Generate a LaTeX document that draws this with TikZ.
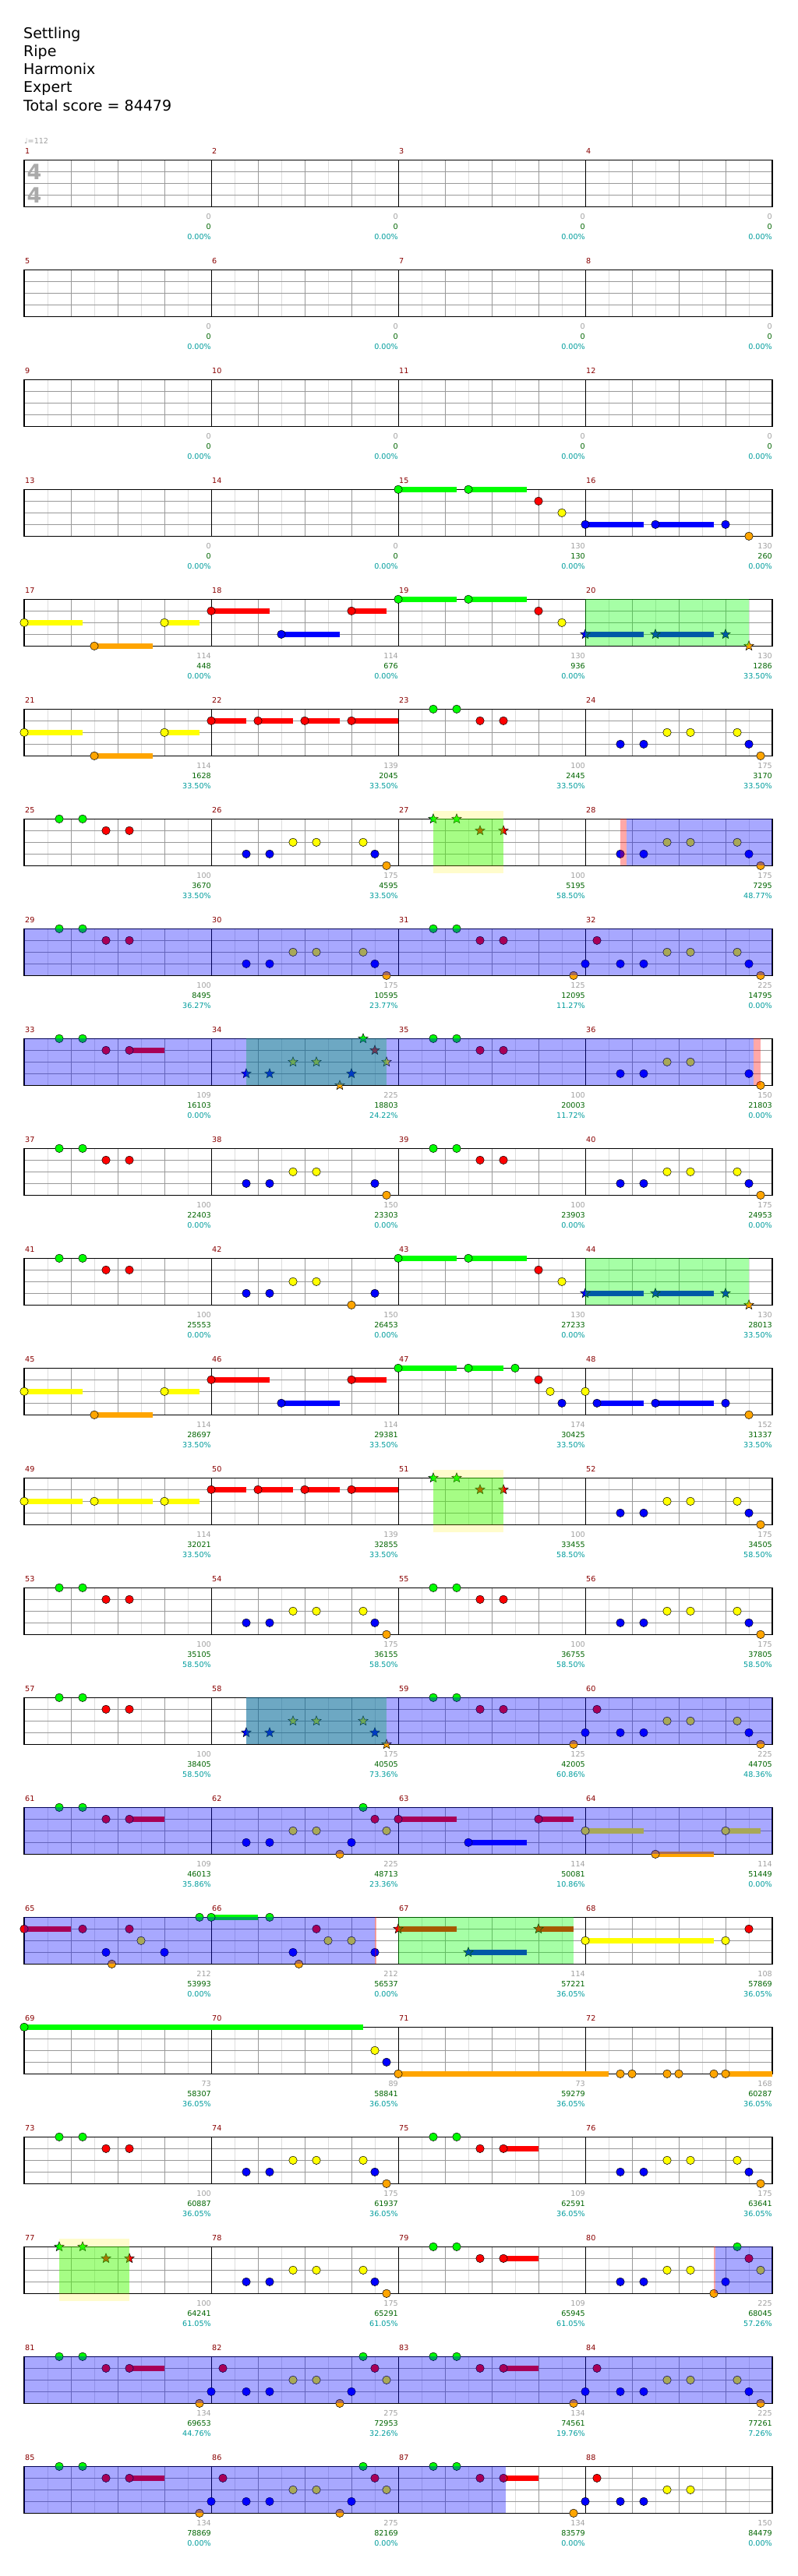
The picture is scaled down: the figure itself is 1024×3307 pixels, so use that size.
\documentclass[tikz,border=0pt]{standalone}
\usepackage{fontspec}
\setmainfont{DejaVu Sans}
\usetikzlibrary{shapes.geometric}

\definecolor{ncG}{HTML}{00FF00}
\definecolor{ncR}{HTML}{FF0000}
\definecolor{ncY}{HTML}{FFFF00}
\definecolor{ncB}{HTML}{0000FF}
\definecolor{ncO}{HTML}{FFA500}
\definecolor{barnum}{HTML}{880000}
\definecolor{notecount}{HTML}{A0A0A0}
\definecolor{scorecol}{HTML}{006400}
\definecolor{pctcol}{HTML}{009C9C}
\definecolor{beatline}{HTML}{999999}
\definecolor{halfline}{HTML}{DDDDDD}
\definecolor{timesig}{HTML}{AAAAAA}

% lane of each fret colour (0 = top line)
\def\laneG{0}\def\laneR{1}\def\laneY{2}\def\laneB{3}\def\laneO{4}

\tikzset{
  gem/.style={circle, draw=black, line width=0.5pt, inner sep=0pt, minimum size=10.5pt},
  stargem/.style={star, star points=5, star point ratio=2.3, draw=black, line width=0.5pt, inner sep=0pt, minimum size=13pt},
  odblue/.style={fill=blue, fill opacity=0.34},
  odred/.style={fill=red, fill opacity=0.34},
  spgreen/.style={fill=green, fill opacity=0.35},
  spyellow/.style={fill=yellow, fill opacity=0.2},
  lbl/.style={font=\fontsize{9.6}{10}\selectfont, inner sep=0pt},
}

% measure, lane, position (16ths), sustain end (0 = none), shape
\newcommand{\putnote}[5]{%
  \pgfmathtruncatemacro\mcol{mod(#1-1,4)}%
  \pgfmathtruncatemacro\mrow{(#1-1)/4}%
  \pgfmathsetmacro\nx{31+240*\mcol+15*#3}%
  \pgfmathsetmacro\ny{205.3+141*\mrow+15*\csname lane#2\endcsname}%
  \ifnum#4>0
    \pgfmathsetmacro\ex{31+240*\mcol+15*#4}%
    \fill[nc#2] (\nx,\ny-3.5) rectangle (\ex,\ny+3.5);
  \fi
  \node[#5, fill=nc#2] at (\nx,\ny) {};
}
\newcommand{\gems}[2]{\edef\gemlist{#2}%
  \foreach \glane/\gpos/\gend in \gemlist {\putnote{#1}{\glane}{\gpos}{\gend}{gem}}}
\newcommand{\stargems}[2]{\edef\gemlist{#2}%
  \foreach \glane/\gpos/\gend in \gemlist {\putnote{#1}{\glane}{\gpos}{\gend}{stargem}}}

% [extension], style, measure, from, to (16ths from that measure)
\newcommand{\zonefill}[5][0]{%
  \pgfmathtruncatemacro\mcol{mod(#3-1,4)}%
  \pgfmathtruncatemacro\mrow{(#3-1)/4}%
  \pgfmathsetmacro\za{31+240*\mcol+15*#4}%
  \pgfmathsetmacro\zb{31+240*\mcol+15*#5}%
  \pgfmathsetmacro\zt{205.3+141*\mrow}%
  \fill[#2] (\za,\zt-#1) rectangle (\zb,\zt+60+#1);}

% recurring riffs
\newcommand{\riffA}{G/3/0, G/5/0, R/7/0, R/9/0}
\newcommand{\riffL}{G/3/0, G/5/0, R/7/0, R/9/12}
\newcommand{\riffB}{B/3/0, B/5/0, Y/7/0, Y/9/0, Y/13/0, B/14/0, O/15/0}
\newcommand{\riffC}{B/3/0, B/5/0, Y/7/0, Y/9/0, O/11/0, B/12/0, G/13/0, R/14/0, Y/15/0}
\newcommand{\riffD}{G/0/5, G/6/11, R/12/0, Y/14/0}

\begin{document}
\begin{tikzpicture}[x=1pt, y=-1pt]
\useasboundingbox (0,0) rectangle (1024,3307);

% Header
\node[anchor=base west, inner sep=0pt, font=\fontsize{19}{19}\selectfont] at (30,49) {Settling};
\node[anchor=base west, inner sep=0pt, font=\fontsize{19}{19}\selectfont] at (30,72.3) {Ripe};
\node[anchor=base west, inner sep=0pt, font=\fontsize{19}{19}\selectfont] at (30,95.6) {Harmonix};
\node[anchor=base west, inner sep=0pt, font=\fontsize{19}{19}\selectfont] at (30,118.9) {Expert};
\node[anchor=base west, inner sep=0pt, font=\fontsize{19}{19}\selectfont] at (30,142.2) {Total score = 84479};
\node[lbl, text=notecount, anchor=west] at (31,181) {♩=112};

% Staves
\foreach \k in {0,...,21}{
  \pgfmathsetmacro\rt{205.3+141*\k}
  \foreach \i in {0,...,15} \draw[halfline, line width=0.6pt] ({61+60*\i},\rt) -- ++(0,60);
  \foreach \i in {1,...,15} \draw[beatline, line width=0.8pt] ({31+60*\i},\rt) -- ++(0,60);
  \foreach \j in {1,2,3} \draw[beatline, line width=0.8pt] (31,\rt+15*\j) -- (991,\rt+15*\j);
  \foreach \i in {1,2,3} \draw[black, line width=0.6pt] ({31+240*\i},\rt) -- ++(0,60);
  \draw[black, line width=1.2pt] (31,\rt) rectangle (991,\rt+60);
}

% Time signature
\node[font=\fontsize{27}{27}\selectfont\bfseries, text=timesig, inner sep=0pt] at (44,221) {4};
\node[font=\fontsize{27}{27}\selectfont\bfseries, text=timesig, inner sep=0pt] at (44,250.5) {4};

% Notes
\gems{15}{\riffD}
\gems{16}{B/0/5, B/6/11, B/12/0, O/14/0}
\gems{17}{Y/0/5, O/6/11, Y/12/15}
\gems{18}{R/0/5, B/6/11, R/12/15}
\gems{19}{\riffD}
\stargems{20}{B/0/5, B/6/11, B/12/0, O/14/0}
\gems{21}{Y/0/5, O/6/11, Y/12/15}
\gems{22}{R/0/3, R/4/7, R/8/11, R/12/16}
\gems{23}{\riffA}
\gems{24}{\riffB}
\gems{25}{\riffA}
\gems{26}{\riffB}
\stargems{27}{\riffA}
\gems{28}{\riffB}
\gems{29}{\riffA}
\gems{30}{\riffB}
\gems{31}{\riffA, O/15/0}
\gems{32}{B/0/0, R/1/0, \riffB}
\gems{33}{\riffL}
\stargems{34}{\riffC}
\gems{35}{\riffA}
\gems{36}{B/3/0, B/5/0, Y/7/0, Y/9/0, B/14/0, O/15/0}
\gems{37}{\riffA}
\gems{38}{B/3/0, B/5/0, Y/7/0, Y/9/0, B/14/0, O/15/0}
\gems{39}{\riffA}
\gems{40}{\riffB}
\gems{41}{\riffA}
\gems{42}{B/3/0, B/5/0, Y/7/0, Y/9/0, O/12/0, B/14/0}
\gems{43}{\riffD}
\stargems{44}{B/0/5, B/6/11, B/12/0, O/14/0}
\gems{45}{Y/0/5, O/6/11, Y/12/15}
\gems{46}{R/0/5, B/6/11, R/12/15}
\gems{47}{G/0/5, G/6/9, G/10/0, R/12/0, Y/13/0, B/14/0}
\gems{48}{Y/0/0, B/1/5, B/6/11, B/12/0, O/14/0}
\gems{49}{Y/0/5, Y/6/11, Y/12/15}
\gems{50}{R/0/3, R/4/7, R/8/11, R/12/16}
\stargems{51}{\riffA}
\gems{52}{\riffB}
\gems{53}{\riffA}
\gems{54}{\riffB}
\gems{55}{\riffA}
\gems{56}{\riffB}
\gems{57}{\riffA}
\stargems{58}{\riffB}
\gems{59}{\riffA, O/15/0}
\gems{60}{B/0/0, R/1/0, \riffB}
\gems{61}{\riffL}
\gems{62}{\riffC}
\gems{63}{R/0/5, B/6/11, R/12/15}
\gems{64}{Y/0/5, O/6/11, Y/12/15}
\gems{65}{R/0/4, R/5/0, B/7/0, O/7.5/0, R/9/0, Y/10/0, B/12/0, G/15/0}
\gems{66}{G/0/4, G/5/0, B/7/0, O/7.5/0, R/9/0, Y/10/0, Y/12/0, B/14/0}
\stargems{67}{R/0/5, B/6/11, R/12/15}
\gems{68}{Y/0/11, Y/12/0, R/14/0}
\gems{69}{G/0/29}
\gems{70}{Y/14/0, B/15/0}
\gems{71}{O/0/18}
\gems{72}{O/3/0, O/4/0, O/7/0, O/8/0, O/11/0, O/12/16}
\gems{73}{\riffA}
\gems{74}{\riffB}
\gems{75}{\riffL}
\gems{76}{\riffB}
\stargems{77}{\riffA}
\gems{78}{\riffB}
\gems{79}{\riffL}
\gems{80}{\riffC}
\gems{81}{\riffL, O/15/0}
\gems{82}{B/0/0, R/1/0, \riffC}
\gems{83}{\riffL, O/15/0}
\gems{84}{B/0/0, R/1/0, \riffB}
\gems{85}{\riffL, O/15/0}
\gems{86}{B/0/0, R/1/0, \riffC}
\gems{87}{\riffL, O/15/0}
\gems{88}{B/0/0, R/1/0, B/3/0, B/5/0, Y/7/0, Y/9/0}

% Star power phrases
\zonefill{spgreen}{20}{0}{14}
\zonefill[10]{spyellow}{27}{3}{9}
\zonefill{spgreen}{27}{3}{9}
\zonefill{spgreen}{34}{3}{15}
\zonefill{spgreen}{44}{0}{14}
\zonefill[10]{spyellow}{51}{3}{9}
\zonefill{spgreen}{51}{3}{9}
\zonefill{spgreen}{58}{3}{15}
\zonefill{spgreen}{67}{0}{15}
\zonefill[10]{spyellow}{77}{3}{9}
\zonefill{spgreen}{77}{3}{9}

% Overdrive
\zonefill{odred}{28}{3}{3.5}
\zonefill{odblue}{28}{3.5}{16}
\zonefill{odblue}{29}{0}{64}
\zonefill{odblue}{33}{0}{62.4}
\zonefill{odred}{33}{62.4}{63}
\zonefill{odblue}{58}{3}{48}
\zonefill{odblue}{61}{0}{64}
\zonefill{odblue}{65}{0}{30}
\zonefill{odred}{65}{30}{30.15}
\zonefill{odred}{80}{11}{11.15}
\zonefill{odblue}{80}{11.15}{16}
\zonefill{odblue}{81}{0}{64}
\zonefill{odblue}{85}{0}{41.2}

% Measure numbers
\foreach \m in {1,...,88}{
  \pgfmathtruncatemacro\mcol{mod(\m-1,4)}
  \pgfmathtruncatemacro\mrow{(\m-1)/4}
  \node[lbl, text=barnum, anchor=west] at ({32+240*\mcol},{194.3+141*\mrow}) {\m};
}

% Note count, running score, overdrive percentage
\foreach \m/\cnt/\scr/\pct in {1/0/0/0.00, 2/0/0/0.00, 3/0/0/0.00, 4/0/0/0.00,
  5/0/0/0.00, 6/0/0/0.00, 7/0/0/0.00, 8/0/0/0.00, 9/0/0/0.00, 10/0/0/0.00,
  11/0/0/0.00, 12/0/0/0.00, 13/0/0/0.00, 14/0/0/0.00, 15/130/130/0.00, 16/130/260/0.00,
  17/114/448/0.00, 18/114/676/0.00, 19/130/936/0.00, 20/130/1286/33.50,
  21/114/1628/33.50, 22/139/2045/33.50, 23/100/2445/33.50, 24/175/3170/33.50,
  25/100/3670/33.50, 26/175/4595/33.50, 27/100/5195/58.50, 28/175/7295/48.77,
  29/100/8495/36.27, 30/175/10595/23.77, 31/125/12095/11.27, 32/225/14795/0.00,
  33/109/16103/0.00, 34/225/18803/24.22, 35/100/20003/11.72, 36/150/21803/0.00,
  37/100/22403/0.00, 38/150/23303/0.00, 39/100/23903/0.00, 40/175/24953/0.00,
  41/100/25553/0.00, 42/150/26453/0.00, 43/130/27233/0.00, 44/130/28013/33.50,
  45/114/28697/33.50, 46/114/29381/33.50, 47/174/30425/33.50, 48/152/31337/33.50,
  49/114/32021/33.50, 50/139/32855/33.50, 51/100/33455/58.50, 52/175/34505/58.50,
  53/100/35105/58.50, 54/175/36155/58.50, 55/100/36755/58.50, 56/175/37805/58.50,
  57/100/38405/58.50, 58/175/40505/73.36, 59/125/42005/60.86, 60/225/44705/48.36,
  61/109/46013/35.86, 62/225/48713/23.36, 63/114/50081/10.86, 64/114/51449/0.00,
  65/212/53993/0.00, 66/212/56537/0.00, 67/114/57221/36.05, 68/108/57869/36.05,
  69/73/58307/36.05, 70/89/58841/36.05, 71/73/59279/36.05, 72/168/60287/36.05,
  73/100/60887/36.05, 74/175/61937/36.05, 75/109/62591/36.05, 76/175/63641/36.05,
  77/100/64241/61.05, 78/175/65291/61.05, 79/109/65945/61.05, 80/225/68045/57.26,
  81/134/69653/44.76, 82/275/72953/32.26, 83/134/74561/19.76, 84/225/77261/7.26,
  85/134/78869/0.00, 86/275/82169/0.00, 87/134/83579/0.00, 88/150/84479/0.00}{
  \pgfmathtruncatemacro\mcol{mod(\m-1,4)}
  \pgfmathtruncatemacro\mrow{(\m-1)/4}
  \pgfmathsetmacro\nx{31+240*(\mcol+1)}
  \pgfmathsetmacro\ny{205.3+141*\mrow}
  \node[lbl, text=notecount, anchor=east] at (\nx,\ny+73) {\cnt};
  \node[lbl, text=scorecol, anchor=east] at (\nx,\ny+86) {\scr};
  \node[lbl, text=pctcol, anchor=east] at (\nx,\ny+99) {\pct\%};
}

\end{tikzpicture}
\end{document}
